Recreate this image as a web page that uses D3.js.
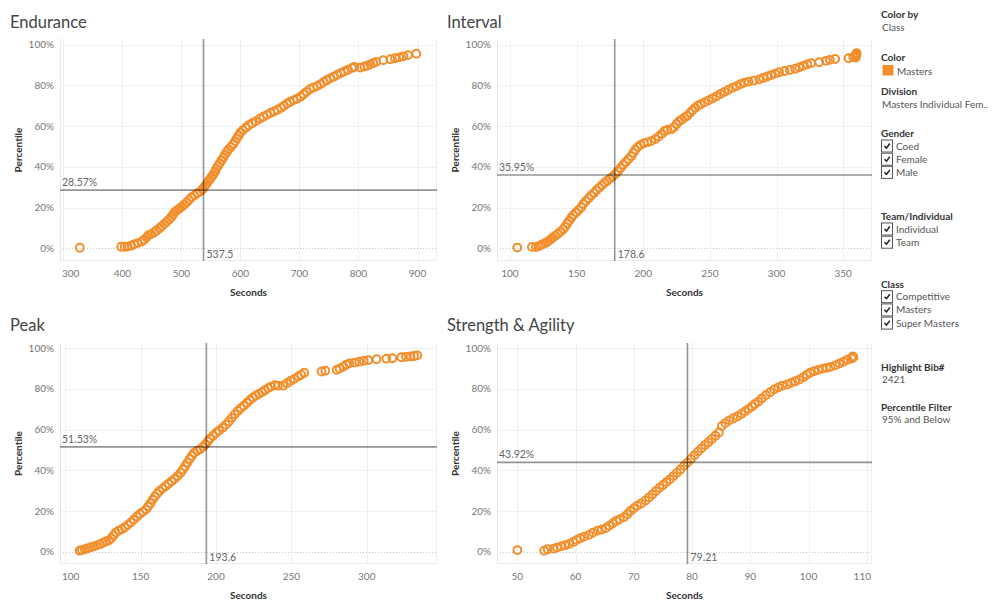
<!DOCTYPE html>
<html>
<head>
<meta charset="utf-8">
<script src="https://cdn.jsdelivr.net/npm/d3@7"></script>
<style>
  html, body { margin: 0; padding: 0; background: #fff; }
  svg { display: block; font-family: Lato, "Open Sans", sans-serif; }
</style>
</head>
<body>
<svg id="chart" width="999" height="612"></svg>
<script>
// ---------- DATA ----------
const enduranceSec = [328,398,404,409,415,420,426,433,437,441,444,449,454,458,463,467,471,475,479,483,486,489,493,497,501,505,509,513,517,522,527,532,536,539,542,545,548,551,554,557,559,562,565,568,571,574,577,580,584,588,591,594,597,600,604,609,614,620,626,633,639,645,651,657,663,669,674,679,684,690,696,702,707,712,718,724,730,736,741,746,752,758,764,770,776,782,789,793,803,810,815,820,825,830,842,854,862,869,876,884,898];
const endurancePct = [0.3,0.8,0.8,0.9,1.3,2.0,2.6,3.4,4.3,5.4,6.4,7.0,7.9,8.8,9.9,10.9,12.0,13.0,14.2,15.4,16.6,17.8,18.8,19.6,20.5,21.5,22.6,23.8,25.0,26.0,27.0,27.9,29.0,30.2,31.4,32.6,33.8,35.0,36.2,37.6,39.0,40.4,41.8,43.2,44.6,46.0,47.4,48.6,49.8,51.2,52.6,54.0,55.4,56.8,58.0,59.2,60.4,61.4,62.4,63.6,64.6,65.5,66.4,67.2,68.0,69.0,70.0,71.0,71.8,72.7,73.4,74.4,75.6,76.8,78.2,78.9,79.6,80.6,81.6,82.5,83.4,84.2,85.1,86.0,86.8,87.6,88.5,89.0,88.7,89.2,89.6,90.3,90.9,91.5,92.3,92.8,93.3,93.7,94.2,94.8,95.5];

const intervalSec = [105.5,116.5,119.5,121.5,123,124.5,126.5,128.5,130.5,132,134,136,138,140,141.5,143,144.5,146,147.5,149.5,151.5,153.5,155,157,159,161,163,165,167,169,171,173,175,177,179,181,183,185,187,189,191,192.5,194,196,198,200.5,203,206,209,211.5,214,216,218,221,223,225,227,229,231,233,235,237,239,241,243,246,249,252,255,258,261,264,267,270,273,276,279,283,287,290,293,296,299,302,306,310,314,317,320,323,326,332,337,340,344,354,357.5,359,359.5,360,360,359.5];
const intervalPct = [0.4,0.7,0.6,1.0,1.5,2.0,2.6,3.4,4.3,5.2,6.2,7.2,8.2,9.4,10.7,12.2,13.6,15.0,16.3,17.6,18.8,20.2,21.8,23.2,24.6,26.0,27.2,28.6,29.8,31.0,32.2,33.2,34.2,35.2,36.4,37.8,39.4,41.0,42.4,43.8,45.2,46.8,48.4,49.8,50.8,51.6,52.0,52.6,53.6,54.8,56.2,57.6,58.2,58.4,59.4,61.0,62.4,63.2,64.2,65.0,66.4,67.8,69.0,70.0,70.7,71.6,72.6,73.6,74.6,75.8,76.8,77.8,78.8,79.6,80.6,81.3,81.8,82.3,82.9,83.6,84.3,85.0,85.7,86.4,87.0,87.5,88.1,88.8,89.5,90.3,90.9,91.3,92.0,92.5,92.9,93.3,93.8,94.3,94.8,95.3,95.8,93.6];

const peakSec = [109.5,111,113,115,117,119,121,123,125,127,129,130.5,132,133.5,135.5,137.5,139.5,141.5,143.5,145.5,147.5,149.5,151.5,153.5,155,156.5,158,159.5,161,162.5,164.5,166.5,168.5,170.5,172.5,174.5,176.5,178,179.5,181,182.5,184,185.5,187.5,189.5,191.5,193,194.5,196,198,200,202,204.5,206.5,208.5,210.5,212.5,214.5,216.5,218.5,220.5,222.5,224.5,226.5,228.5,230.5,232.5,234.5,236.5,239,241,244.5,247,249.5,252,254.5,256.5,258.5,270,272.5,280,282,284.5,286.5,288.5,292,295,298,301,306.5,313,317,323,326,329,331.5,333.5];
const peakPct = [0.5,0.8,1.2,1.7,2.2,2.6,3.1,3.7,4.4,5.0,5.6,6.6,8.0,9.4,10.4,11.0,12.0,13.2,14.4,15.8,17.3,18.6,19.6,20.8,22.2,23.8,25.6,27.2,28.6,29.8,31.0,32.2,33.4,34.6,35.8,37.2,38.8,40.4,42.0,43.8,45.6,47.2,48.6,49.6,50.4,51.6,52.8,54.2,55.6,57.0,58.4,59.6,61.0,62.4,64.0,65.8,67.6,69.2,70.6,71.8,73.2,74.6,75.8,76.8,77.6,78.4,79.4,80.4,81.2,81.9,81.6,81.6,82.8,84.0,85.0,86.2,87.0,88.0,88.6,89.0,89.4,90.0,91.0,92.0,92.6,93.0,93.4,93.8,94.2,94.6,94.9,95.1,95.6,95.8,96.0,96.2,96.5];

const strengthSec = [50,54.6,55.2,56.2,56.8,57.5,58.2,58.9,59.6,60.2,60.8,61.5,62.3,63.0,63.8,64.5,65.2,65.8,66.4,67.0,67.6,68.3,68.9,69.4,70.0,70.6,71.3,72.0,72.6,73.2,73.8,74.4,75.0,75.6,76.2,76.8,77.4,78.0,78.6,79.2,79.8,80.4,81.0,81.6,82.2,82.8,83.4,84.0,84.6,85.1,85.7,86.4,87.1,87.8,88.5,89.1,89.7,90.3,90.8,91.4,92.0,92.7,93.4,94.1,94.8,95.5,96.3,97.0,97.7,98.4,99.1,99.7,100.3,101.0,101.7,102.4,103.1,103.8,104.6,105.3,106.0,106.7,107.4,107.7,107.6];
const strengthPct = [0.8,0.5,1.2,1.5,2.0,2.6,3.2,3.8,4.8,5.8,6.6,7.4,8.3,9.4,10.4,10.9,11.6,12.8,14.0,15.2,16.0,17.0,18.4,20.0,21.4,22.6,23.8,25.2,26.6,28.2,29.8,31.4,32.8,34.2,35.6,37.2,38.8,40.4,42.2,43.8,45.6,47.4,49.2,50.8,52.4,53.8,55.4,57.0,58.6,61.8,63.2,64.6,65.6,66.6,67.8,69.0,70.2,71.4,72.6,73.8,75.4,77.0,78.4,79.8,80.8,81.6,82.2,83.0,83.8,84.6,85.8,87.0,88.0,88.8,89.4,90.0,90.4,90.9,91.6,92.5,93.4,94.4,95.0,95.6,96.0,95.4];

const panelTitles = ["Endurance", "Interval", "Peak", "Strength & Agility"];
const refSeconds = [537.5, 178.6, 193.6, 79.21];
const refPercent = [28.57, 35.95, 51.53, 43.92];
const refSecondsLabels = ["537.5", "178.6", "193.6", "79.21"];
const refPercentLabels = ["28.57%", "35.95%", "51.53%", "43.92%"];
const xTickValues = [[300,400,500,600,700,800,900],[100,150,200,250,300,350],[100,150,200,250,300],[50,60,70,80,90,100,110]];
const yTickValues = [0,20,40,60,80,100];
const legendItems = [
  {title: "Color by", value: "Class"},
  {title: "Division", value: "Masters Individual Fem.."},
  {title: "Highlight Bib#", value: "2421"},
  {title: "Percentile Filter", value: "95% and Below"}
];
const genderOptions = ["Coed", "Female", "Male"];
const teamOptions = ["Individual", "Team"];
const classOptions = ["Competitive", "Masters", "Super Masters"];
const colorLegend = ["Masters"];

// ---------- LAYOUT ----------
const seriesData = [
  [enduranceSec, endurancePct],
  [intervalSec, intervalPct],
  [peakSec, peakPct],
  [strengthSec, strengthPct]
];
const layout = [
  {x0: 60,  x1: 437, y0: 39,  y1: 261, xd: [294.4, 933],  yd: [-6.2, 102.7], tx: 10,  ty: 28,  yTitleX: 18},
  {x0: 497, x1: 872, y0: 39,  y1: 261, xd: [90.3, 371.6], yd: [-6.2, 102.7], tx: 447, ty: 28,  yTitleX: 455},
  {x0: 60,  x1: 437, y0: 343, y1: 564, xd: [96.5, 346.6], yd: [-6.05, 102.6], tx: 10, ty: 331, yTitleX: 18},
  {x0: 497, x1: 872, y0: 343, y1: 564, xd: [46.5, 110.9], yd: [-6.05, 102.6], tx: 447, ty: 331, yTitleX: 455}
];
const ORANGE = "#f28e2b";
const svg = d3.select("#chart");

layout.forEach((L, i) => {
  const x = d3.scaleLinear().domain(L.xd).range([L.x0, L.x1]);
  const y = d3.scaleLinear().domain(L.yd).range([L.y1, L.y0]);
  const g = svg.append("g");

  // title
  g.append("text").attr("x", L.tx).attr("y", L.ty)
    .attr("font-size", 16.5).attr("fill", "#444").attr("font-weight", 400)
    .text(panelTitles[i]);

  // gridlines
  const xt = xTickValues[i];
  g.selectAll(".vg").data(xt).enter().append("line")
    .attr("x1", d => Math.round(x(d)) + 0.5).attr("x2", d => Math.round(x(d)) + 0.5)
    .attr("y1", L.y0).attr("y2", L.y1)
    .attr("stroke", "#f0f0f0").attr("stroke-width", 1);
  g.selectAll(".hg").data(yTickValues.filter(d => d !== 0)).enter().append("line")
    .attr("x1", L.x0).attr("x2", L.x1)
    .attr("y1", d => Math.round(y(d)) + 0.5).attr("y2", d => Math.round(y(d)) + 0.5)
    .attr("stroke", "#f0f0f0").attr("stroke-width", 1);
  // zero line dotted
  g.append("line").attr("x1", L.x0).attr("x2", L.x1)
    .attr("y1", Math.round(y(0)) + 0.5).attr("y2", Math.round(y(0)) + 0.5)
    .attr("stroke", "#c8c8c8").attr("stroke-dasharray", "1,2");
  // plot rulers
  g.append("line").attr("x1", L.x0 + 0.5).attr("x2", L.x0 + 0.5).attr("y1", L.y0).attr("y2", L.y1)
    .attr("stroke", "#e6e6e6");
  g.append("line").attr("x1", L.x0).attr("x2", L.x1).attr("y1", L.y1 - 0.5).attr("y2", L.y1 - 0.5)
    .attr("stroke", "#ececec");
  g.append("line").attr("x1", L.x1 - 0.5).attr("x2", L.x1 - 0.5).attr("y1", L.y0).attr("y2", L.y1)
    .attr("stroke", "#f0f0f0");

  // y tick labels
  g.selectAll(".yl").data(yTickValues).enter().append("text")
    .attr("x", L.x0 - 6).attr("y", d => y(d) + 3.5)
    .attr("text-anchor", "end").attr("font-size", 10).attr("fill", "#777")
    .text(d => d + "%");

  // x tick labels (clamped within plot)
  g.selectAll(".xl").data(xt).enter().append("text")
    .attr("y", L.y1 + 16).attr("font-size", 10).attr("fill", "#777")
    .attr("text-anchor", "middle")
    .text(d => d)
    .each(function(d) {
      const w = this.getComputedTextLength();
      let cx = x(d);
      if (cx - w / 2 < L.x0 + 2) cx = L.x0 + 2 + w / 2;
      if (cx + w / 2 > L.x1 - 1) cx = L.x1 - 1 - w / 2;
      d3.select(this).attr("x", cx);
    });

  // axis titles
  g.append("text").attr("x", (L.x0 + L.x1) / 2).attr("y", L.y1 + 35)
    .attr("text-anchor", "middle").attr("font-size", 10).attr("font-weight", 700).attr("fill", "#333")
    .text("Seconds");
  g.append("text").attr("transform", `translate(${L.yTitleX + 3.5},${(L.y0 + L.y1) / 2}) rotate(-90)`)
    .attr("text-anchor", "middle").attr("font-size", 10).attr("font-weight", 700).attr("fill", "#333")
    .text("Percentile");

  // points
  const [secs, pcts] = seriesData[i];
  const pts = secs.map((s, k) => ({s, p: pcts[k]}));
  g.append("g").selectAll("circle").data(pts).enter().append("circle")
    .attr("cx", d => x(d.s)).attr("cy", d => y(d.p)).attr("r", 3.9)
    .attr("fill", "none").attr("stroke", ORANGE).attr("stroke-width", 2);

  // reference lines
  const rx = x(refSeconds[i]), ry = y(refPercent[i]);
  g.append("line").attr("x1", L.x0).attr("x2", L.x1).attr("y1", ry).attr("y2", ry)
    .attr("stroke", "#000").attr("stroke-opacity", 0.42).attr("stroke-width", 1.6);
  g.append("line").attr("x1", rx).attr("x2", rx).attr("y1", L.y0).attr("y2", L.y1)
    .attr("stroke", "#000").attr("stroke-opacity", 0.42).attr("stroke-width", 1.6);
  g.append("text").attr("x", L.x0 + 2).attr("y", ry - 4)
    .attr("font-size", 10.5).attr("fill", "#666").text(refPercentLabels[i]);
  g.append("text").attr("x", rx + 3).attr("y", L.y1 - 3.5)
    .attr("font-size", 10.5).attr("fill", "#666").text(refSecondsLabels[i]);
});

// ---------- LEGEND / FILTER PANEL ----------
const lg = svg.append("g").attr("font-size", 10);
const LX = 881;
function titleText(t, yb) {
  lg.append("text").attr("x", LX).attr("y", yb).attr("fill", "#333").attr("font-weight", 700).text(t);
}
function valueText(t, xb, yb) {
  lg.append("text").attr("x", xb).attr("y", yb).attr("fill", "#555").text(t);
}
function checkList(items, startY) {
  items.forEach((t, k) => {
    const cy = startY + k * 13.2;
    lg.append("rect").attr("x", LX + 0.5).attr("y", cy - 6).attr("width", 11).attr("height", 12)
      .attr("fill", "#fff").attr("stroke", "#555").attr("stroke-width", 1);
    lg.append("path").attr("d", `M${LX + 3.5},${cy} L${LX + 5.5},${cy + 2} L${LX + 8.8},${cy - 2.5}`)
      .attr("fill", "none").attr("stroke", "#222").attr("stroke-width", 1.5);
    valueText(t, LX + 15, cy + 3.5);
  });
}
titleText(legendItems[0].title, 18);
valueText(legendItems[0].value, LX + 1, 30.5);
titleText("Color", 60.5);
lg.append("rect").attr("x", LX + 1.5).attr("y", 65).attr("width", 11).attr("height", 10.5).attr("fill", ORANGE);
valueText(colorLegend[0], 897, 74.5);
titleText(legendItems[1].title, 95);
valueText(legendItems[1].value, LX + 1, 108);
titleText("Gender", 137);
checkList(genderOptions, 146);
titleText("Team/Individual", 219.5);
checkList(teamOptions, 229);
titleText("Class", 288);
checkList(classOptions, 296.7);
titleText(legendItems[2].title, 370.5);
valueText(legendItems[2].value, LX + 1, 383);
titleText(legendItems[3].title, 410.5);
valueText(legendItems[3].value, LX + 1, 423);
</script>
</body>
</html>
